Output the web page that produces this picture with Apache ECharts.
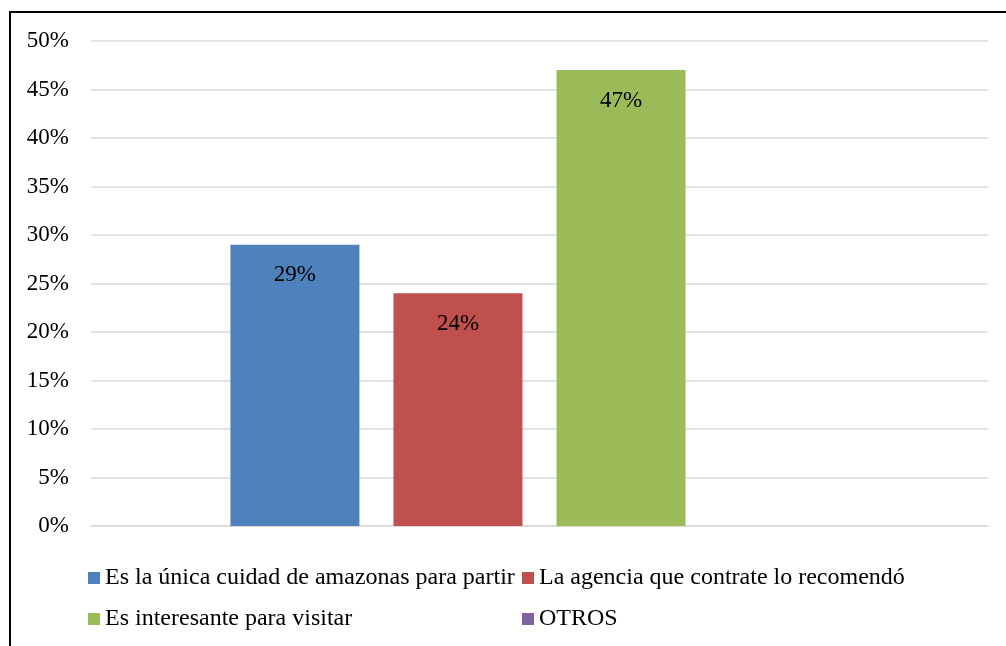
<!DOCTYPE html>
<html>
<head>
<meta charset="utf-8">
<script src="https://cdn.jsdelivr.net/npm/echarts@6/dist/echarts.min.js"></script>
<style>
html,body{margin:0;padding:0;background:#fff;overflow:hidden;width:1006px;height:646px;}
#chart{position:absolute;left:0;top:0;width:1006px;height:646px;}
#frame{position:absolute;left:9px;top:11px;width:1100px;height:700px;border:2px solid #000;box-sizing:border-box;pointer-events:none;}
</style>
</head>
<body>
<div id="chart"></div>
<div id="frame"></div>
<script>
const categories = [''];
const seriesNames = ['Es la única cuidad de amazonas para partir', 'La agencia que contrate lo recomendó', 'Es interesante para visitar', 'OTROS'];
const seriesValues = [29, 24, 47, 0];
const seriesColors = ['#4F81BD', '#C0504D', '#9BBB59', '#8064A2'];
const yTicks = [0, 5, 10, 15, 20, 25, 30, 35, 40, 45, 50];

const FONT = '"Liberation Serif", "Times New Roman", serif';
const FS = 23;
const LFS = 24;
const chart = echarts.init(document.getElementById('chart'));

const legendPos = [
  {left: 88, top: 566},
  {left: 522, top: 566},
  {left: 88, top: 607},
  {left: 522, top: 607}
];

const option = {
  animation: false,
  backgroundColor: 'transparent',
  grid: {left: 91, right: 18, top: 41, bottom: 120, containLabel: false},
  xAxis: {
    type: 'category',
    data: categories,
    axisLine: {show: true, lineStyle: {color: '#d9d9d9', width: 1.5}},
    axisTick: {show: false},
    axisLabel: {show: false}
  },
  yAxis: {
    type: 'value',
    min: yTicks[0],
    max: yTicks[yTicks.length - 1],
    interval: 5,
    axisLine: {show: false},
    axisTick: {show: false},
    axisLabel: {formatter: '{value}%', color: '#000', fontFamily: FONT, fontSize: FS, margin: 22},
    splitLine: {lineStyle: {color: '#d9d9d9', width: 1.5}}
  },
  legend: seriesNames.map((n, i) => ({
    data: [n],
    left: legendPos[i].left,
    top: legendPos[i].top,
    itemWidth: 12,
    itemHeight: 12,
    itemGap: 0,
    padding: 0,
    icon: 'rect',
    selectedMode: false,
    textStyle: {color: '#000', fontFamily: FONT, fontSize: LFS, padding: [0, 0, 0, 0]}
  })),
  series: seriesNames.map((n, i) => ({
    name: n,
    type: 'bar',
    data: [seriesValues[i]],
    barWidth: 129,
    barGap: '26.4%',
    itemStyle: {color: seriesColors[i]},
    label: {
      show: seriesValues[i] > 0,
      position: 'insideTop',
      distance: 19,
      formatter: '{c}%',
      color: '#000',
      fontFamily: FONT,
      fontSize: FS
    }
  }))
};
chart.setOption(option);
</script>
</body>
</html>
